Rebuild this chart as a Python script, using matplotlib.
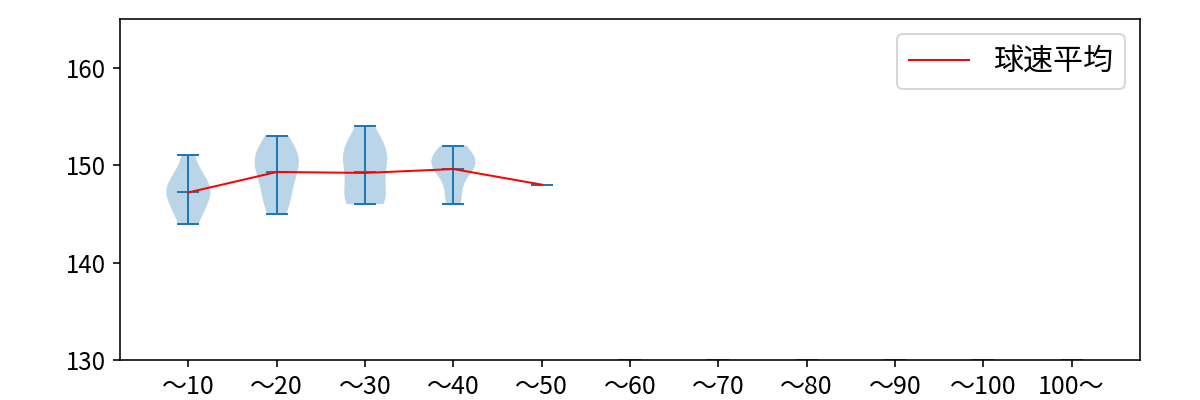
import matplotlib
matplotlib.use("Agg")
import matplotlib.pyplot as plt
import numpy as np

plt.rcParams['font.family'] = ['Noto Sans CJK JP', 'DejaVu Sans']

categories = ['～10', '～20', '～30', '～40', '～50', '～60', '～70', '～80', '～90', '～100', '100～']
speeds = [
    [144, 145, 146, 147, 147, 148, 148, 149, 151],
    [145, 146, 147, 148, 149, 150, 150, 151, 151, 152, 153],
    [146, 146, 146, 147, 148, 149, 150, 151, 151, 152, 152, 154],
    [146, 147, 149, 150, 150, 150, 151, 151, 152],
    [148],
    [130], [130], [130], [130], [130], [130],
]
mean_positions = [1, 2, 3, 4, 5]
mean_values = [147.2, 149.3, 149.2, 149.6, 148.0]

DPI = 144
fig = plt.figure(figsize=(1200 / DPI, 400 / DPI), dpi=DPI)
ax = fig.add_axes([0.1, 0.1, 0.85, 0.8525])
positions = np.arange(1, len(categories) + 1)
parts = ax.violinplot(speeds, positions=positions, showmeans=True)
for key in ('cbars', 'cmins', 'cmaxes', 'cmeans'):
    parts[key].set_linewidth(1)
ax.plot(mean_positions, mean_values, color='red', lw=1, label='球速平均')
ax.set_xticks(positions)
ax.set_xticklabels(categories, fontsize=12.5)
ax.tick_params(axis='y', labelsize=12)
ax.set_ylim(130, 165)
ax.set_yticks([130, 140, 150, 160])
ax.legend(loc='upper right', fontsize=15)
fig.savefig('out.png', dpi=DPI)
